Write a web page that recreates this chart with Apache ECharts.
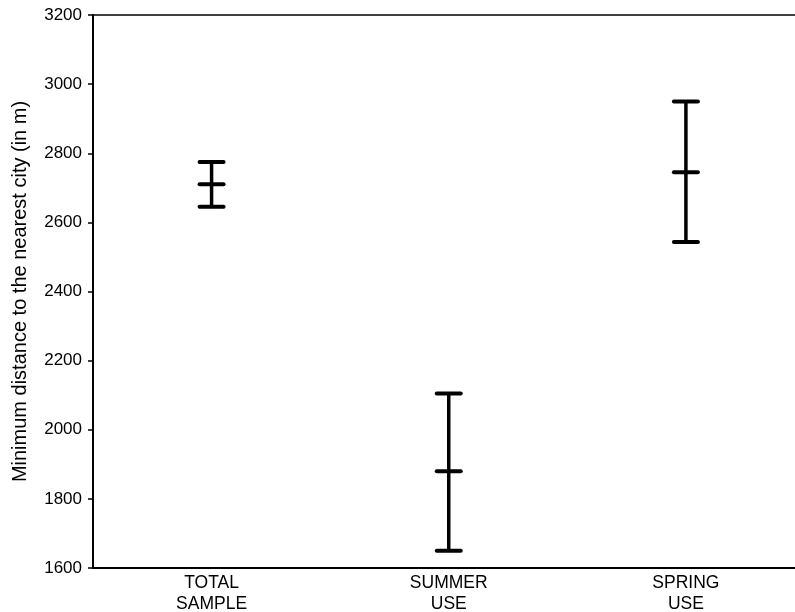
<!DOCTYPE html>
<html>
<head>
<meta charset="utf-8">
<script src="https://cdn.jsdelivr.net/npm/echarts@6/dist/echarts.min.js"></script>
<style>html,body{margin:0;padding:0;background:#fff;}#c{width:795px;height:612px;}</style>
</head>
<body>
<div id="c"></div>
<script>
var categories = ['TOTAL\nSAMPLE', 'SUMMER\nUSE', 'SPRING\nUSE'];
var meanValues = [2710, 1880, 2745];
var lowValues = [2645, 1650, 2543];
var highValues = [2775, 2105, 2950];
var yTicks = [1600, 1800, 2000, 2200, 2400, 2600, 2800, 3000, 3200];

var chart = echarts.init(document.getElementById('c'), null, {renderer: 'canvas'});
var data = categories.map(function (c, i) { return [i, lowValues[i], meanValues[i], highValues[i]]; });
var catIdx = categories.map(function (c, i) { return i; });
var FONT = 'Liberation Sans, Arial, sans-serif';

chart.setOption({
  animation: false,
  backgroundColor: '#fff',
  grid: { left: 93, top: 15, right: 0, bottom: 44, containLabel: false, outerBoundsMode: 'none' },
  xAxis: [{
    type: 'value',
    min: -0.5,
    max: 2.46,
    position: 'bottom',
    axisLine: { onZero: false, lineStyle: { color: '#000', width: 2 } },
    axisTick: { show: false },
    splitLine: { show: false },
    axisLabel: {
      customValues: catIdx,
      formatter: function (v) { return categories[Math.round(v)]; },
      color: '#000', fontSize: 17.5, fontFamily: FONT, lineHeight: 21, margin: 5
    }
  }, {
    type: 'value',
    min: -0.5,
    max: 2.46,
    position: 'top',
    axisLine: { show: true, onZero: false, lineStyle: { color: '#000', width: 1.5 } },
    axisTick: { show: false },
    axisLabel: { show: false },
    splitLine: { show: false }
  }],
  yAxis: {
    type: 'value',
    min: yTicks[0],
    max: yTicks[yTicks.length - 1],
    interval: 200,
    name: 'Minimum distance to the nearest city (in m)',
    nameLocation: 'middle',
    nameGap: 63,
    nameTextStyle: { color: '#000', fontSize: 20, fontFamily: FONT },
    axisLine: { show: true, onZero: false, lineStyle: { color: '#000', width: 2 } },
    axisTick: { show: true, length: 5, lineStyle: { color: '#000', width: 1.5 } },
    axisLabel: { color: '#000', fontSize: 17, fontFamily: FONT, margin: 11, formatter: function (v) { return String(v); } },
    splitLine: { show: false }
  },
  series: [{
    type: 'custom',
    xAxisIndex: 0,
    data: data,
    encode: { x: 0, y: [1, 2, 3] },
    renderItem: function (params, api) {
      var x = api.value(0);
      var lo = api.coord([x, api.value(1)]);
      var me = api.coord([x, api.value(2)]);
      var hi = api.coord([x, api.value(3)]);
      var hw = 12;
      var st = { stroke: '#000', lineWidth: 4, lineCap: 'round' };
      return {
        type: 'group',
        children: [
          { type: 'line', shape: { x1: lo[0], y1: lo[1], x2: hi[0], y2: hi[1] }, style: { stroke: '#000', lineWidth: 3.5 } },
          { type: 'line', shape: { x1: lo[0] - hw, y1: lo[1], x2: lo[0] + hw, y2: lo[1] }, style: st },
          { type: 'line', shape: { x1: me[0] - hw, y1: me[1], x2: me[0] + hw, y2: me[1] }, style: st },
          { type: 'line', shape: { x1: hi[0] - hw, y1: hi[1], x2: hi[0] + hw, y2: hi[1] }, style: st }
        ]
      };
    }
  }]
});
</script>
</body>
</html>
